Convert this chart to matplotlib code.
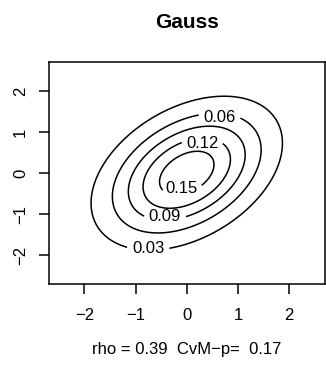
import matplotlib
matplotlib.use("Agg")
import matplotlib.pyplot as plt
import numpy as np

plt.rcParams['font.family'] = ['Liberation Sans', 'DejaVu Sans']

# model parameters and the contour levels to draw
title = "Gauss"
rho = 0.39
cvm_p = 0.17
levels = [0.03, 0.06, 0.09, 0.12, 0.15]
label_pos = [(-0.754, -1.839), (0.643, 1.359), (-0.428, -1.051), (0.312, 0.716), (-0.103, -0.376)]
ticks = [-2, -1, 0, 1, 2]
lim = 2.6


def gauss_density(x, y, r):
    # standard bivariate normal with correlation r
    q = (x ** 2 - 2 * r * x * y + y ** 2) / (1 - r ** 2)
    return np.exp(-q / 2) / (2 * np.pi * np.sqrt(1 - r ** 2))


g = np.linspace(-lim, lim, 301)
X, Y = np.meshgrid(g, g)
Z = gauss_density(X, Y, rho)

fig = plt.figure(figsize=(3.26, 3.66), dpi=100)
ax = fig.add_axes([48.5 / 326, 1 - 284.3 / 366, (325 - 48.5) / 326, (284.3 - 62) / 366])

cs = ax.contour(X, Y, Z, levels=levels, colors='black', linewidths=1.1)
labels = ax.clabel(cs, levels, fmt='%.2f', fontsize=12, inline=True, inline_spacing=6,
                   manual=label_pos)
# keep the labels upright and centred where they were asked for
pos_by_text = {'%.2f' % lv: p for lv, p in zip(levels, label_pos)}
for t in labels:
    t.set_rotation(0)
    t.set_position(pos_by_text[t.get_text()])

ax.set_xlim(-lim * 1.04, lim * 1.04)
ax.set_ylim(-lim * 1.04, lim * 1.04)
ax.set_xticks(ticks)
ax.set_yticks(ticks)
ax.tick_params(axis='both', direction='out', length=7.5, width=1.1, labelsize=12)
ax.tick_params(axis='x', pad=9.5)
ax.tick_params(axis='y', pad=7.3)
for lab in ax.get_yticklabels():
    lab.set_rotation(90)
    lab.set_va('center')
for s in ax.spines.values():
    s.set_linewidth(1.1)

fig.text(186.75 / 326, 1 - 27.5 / 366, title, ha='center', va='baseline',
         fontsize=15, fontweight='bold')
fig.text(186.75 / 326, 1 - 354 / 366,
         "rho = %.2f  CvM\u2212p=  %.2f" % (rho, cvm_p),
         ha='center', va='baseline', fontsize=12)

fig.savefig("out.png", dpi=100)
